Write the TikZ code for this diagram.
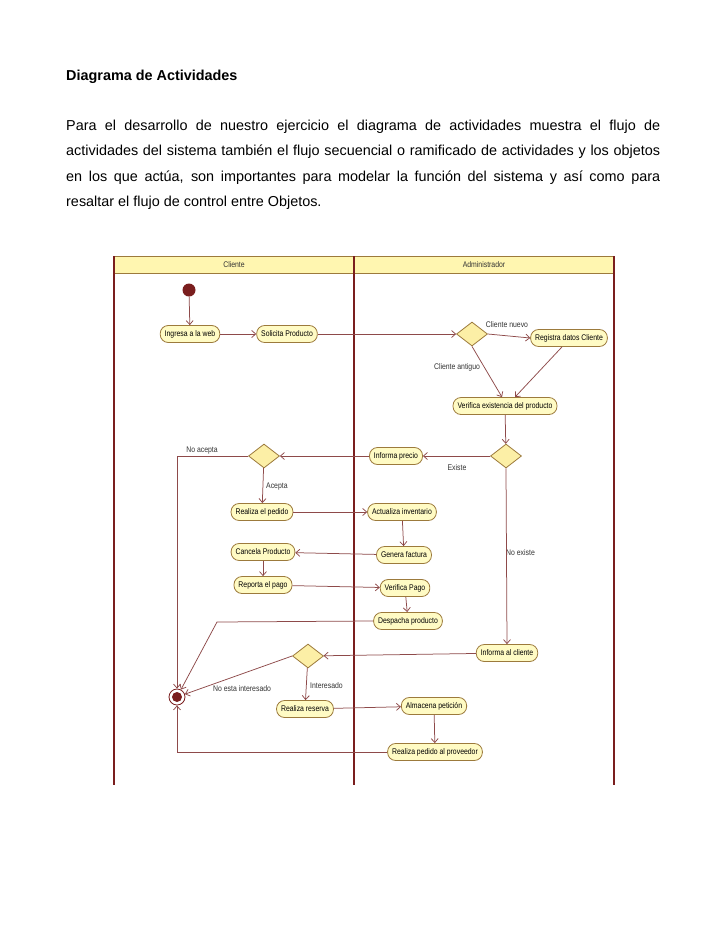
\documentclass[tikz,border=0pt]{standalone}
\usepackage{fontspec}
\setmainfont{Liberation Sans}
\newfontfamily\diagfont[FakeStretch=0.84]{Liberation Sans}
\usetikzlibrary{shapes.geometric,arrows.meta}
\definecolor{carril}{HTML}{7A1E1E}
\definecolor{borde}{HTML}{9C7A3C}
\definecolor{relleno}{HTML}{FFFBC4}
\definecolor{rombo}{HTML}{FCEFA6}
\definecolor{cabecera}{HTML}{FFF6B0}
\definecolor{flecha}{HTML}{8E4A4A}
\definecolor{etiqueta}{HTML}{333333}
\tikzset{
  actividad/.style={draw=borde, fill=relleno, rounded corners=8pt, line width=0.8pt,
    minimum height=17pt, inner xsep=4.5pt, inner ysep=0pt,
    font=\diagfont\fontsize{8.2}{9}\selectfont},
  decision/.style={diamond, draw=borde, fill=rombo, line width=0.8pt,
    minimum width=31pt, minimum height=24pt, inner sep=0pt},
  inicio/.style={circle, fill=carril, minimum size=13pt, inner sep=0pt},
  fin/.style={circle, draw=carril, fill=white, line width=0.8pt, minimum size=16pt,
    inner sep=0pt, path picture={\fill[carril] (path picture bounding box.center) circle (5pt);}},
  flujo/.style={draw=flecha, line width=0.75pt, -{Straight Barb[length=4pt,width=7pt]}},
  etq/.style={font=\diagfont\fontsize{8.2}{9}\selectfont, text=etiqueta, inner sep=1pt},
  parrafo/.style={anchor=base west, inner sep=0pt, font=\fontsize{14.4}{18}\selectfont},
}
\begin{document}
\begin{tikzpicture}[x=1pt,y=-1pt]
\useasboundingbox[fill=white] (0,0) rectangle (728,943);
% texto
\node[parrafo] (titulo) at (66,80) {\textbf{Diagrama de Actividades}};
\node[parrafo] (linea1) at (66,130) {\makebox[594pt][s]{Para el desarrollo de nuestro ejercicio el diagrama de actividades muestra el flujo de}};
\node[parrafo] (linea2) at (66,155.5) {\makebox[594pt][s]{actividades del sistema también el flujo secuencial o ramificado de actividades y los objetos}};
\node[parrafo] (linea3) at (66,181) {\makebox[594pt][s]{en los que actúa, son importantes para modelar la función del sistema y así como para}};
\node[parrafo] (linea4) at (66,206.5) {resaltar el flujo de control entre Objetos.};
% carriles
\draw[borde, fill=cabecera, line width=0.8pt] (114,256) rectangle (614,273);
\draw[carril, line width=1.4pt] (114,256) -- (114,785);
\draw[carril, line width=1.4pt] (614,256) -- (614,785);
\draw[carril, line width=2.6pt] (354,256) -- (354,785);
\node[etq] (cliente) at (234,264.5) {Cliente};
\node[etq] (admin) at (484,264.5) {Administrador};
% nodos
\node[inicio] (inicio) at (189,290) {};
\node[actividad] (ingresa) at (190,334) {Ingresa a la web};
\node[actividad] (solicita) at (287,334) {Solicita Producto};
\node[decision] (dec1) at (472,334) {};
\node[actividad] (registra) at (569,338) {Registra datos Cliente};
\node[actividad] (verifica) at (505,406) {Verifica existencia del producto};
\node[decision] (dec2) at (506,456) {};
\node[actividad] (precio) at (396,456) {Informa precio};
\node[decision] (dec3) at (264,456) {};
\node[actividad] (pedido) at (262,512) {Realiza el pedido};
\node[actividad] (inventario) at (402,512) {Actualiza inventario};
\node[actividad] (factura) at (404,555) {Genera factura};
\node[actividad] (cancela) at (263,552) {Cancela Producto};
\node[actividad] (reporta) at (263,585) {Reporta el pago};
\node[actividad] (pago) at (405,588) {Verifica Pago};
\node[actividad] (despacha) at (408,621) {Despacha producto};
\node[actividad] (informa) at (507,653) {Informa al cliente};
\node[decision] (dec4) at (308,656) {};
\node[actividad] (reserva) at (305,709) {Realiza reserva};
\node[actividad] (almacena) at (434,706) {Almacena petición};
\node[actividad] (proveedor) at (435,752) {Realiza pedido al proveedor};
\node[fin] (fin) at (177,697) {};
\coordinate (codo) at (217,622);
% etiquetas
\node[etq] (lnuevo) at (507,325) {Cliente nuevo};
\node[etq] (lantiguo) at (457,367) {Cliente antiguo};
\node[etq] (lexiste) at (457,468) {Existe};
\node[etq, anchor=west] (lnoexiste) at (505,553) {No existe};
\node[etq] (lnoacepta) at (202,451) {No acepta};
\node[etq, anchor=west] (lacepta) at (265,487) {Acepta};
\node[etq, anchor=west] (lnointeres) at (212,689) {No esta interesado};
\node[etq, anchor=west] (linteres) at (309,686) {Interesado};
% flujos
\draw[flujo] (inicio) -- (ingresa);
\draw[flujo] (ingresa) -- (solicita);
\draw[flujo] (solicita) -- (dec1);
\draw[flujo] (dec1.east) -- (registra.west);
\draw[flujo] (dec1.south) -- ([xshift=-3pt]verifica.north);
\draw[flujo] ([xshift=-7pt]registra.south) -- ([xshift=10pt]verifica.north);
\draw[flujo] (verifica) -- (dec2);
\draw[flujo] (dec2) -- (precio);
\draw[flujo] (dec2.south) -- (informa.north);
\draw[flujo] (precio) -- (dec3);
\draw[flujo] (dec3.west) -| (fin.north);
\draw[flujo] (dec3) -- (pedido);
\draw[flujo] (pedido) -- (inventario);
\draw[flujo] (inventario) -- (factura);
\draw[flujo] (factura) -- (cancela);
\draw[flujo] (cancela) -- (reporta);
\draw[flujo] (reporta) -- (pago);
\draw[flujo] (pago) -- (despacha);
\draw[flujo] (despacha.west) -- (codo) -- (fin);
\draw[flujo] (informa) -- (dec4);
\draw[flujo] (dec4.west) -- (fin);
\draw[flujo] (dec4) -- (reserva);
\draw[flujo] (reserva) -- (almacena);
\draw[flujo] (almacena) -- (proveedor);
\draw[flujo] (proveedor.west) -| (fin.south);
\end{tikzpicture}
\end{document}
